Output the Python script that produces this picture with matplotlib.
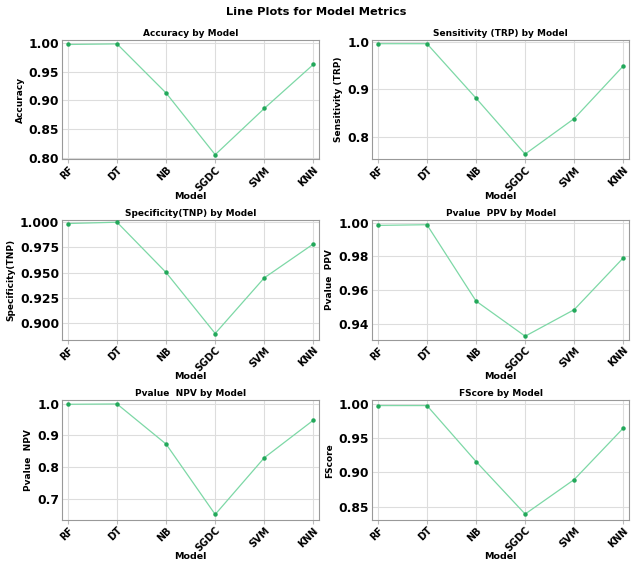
import numpy as np
import matplotlib
matplotlib.use('Agg')
import matplotlib.pyplot as plt

# model names on the x axis
models = ['RF', 'DT', 'NB', 'SGDC', 'SVM', 'KNN']

# metric values
accuracy = [0.998, 0.999, 0.913, 0.805, 0.886, 0.963]
sensitivity = [0.996, 0.996, 0.881, 0.763, 0.838, 0.949]
specificity = [0.9987, 1.000, 0.9503, 0.890, 0.945, 0.9785]
ppv = [0.9984, 0.9988, 0.9534, 0.9325, 0.9483, 0.9791]
npv = [0.998, 0.999, 0.873, 0.652, 0.830, 0.948]
fscore = [0.998, 0.998, 0.916, 0.839, 0.8896, 0.965]

metric_names = ['Accuracy', 'Sensitivity (TRP)', 'Specificity(TNP)',
                'Pvalue  PPV', 'Pvalue  NPV', 'FScore']
metric_values = [accuracy, sensitivity, specificity, ppv, npv, fscore]

fig, axes = plt.subplots(3, 2, figsize=(6.33, 5.62), dpi=100)
fig.subplots_adjust(left=0.098, right=0.994, top=0.929, bottom=0.075,
                    wspace=0.205, hspace=0.51)
fig.suptitle('Line Plots for Model Metrics', fontsize=8.2, fontweight='bold', y=0.988)

x = np.arange(len(models))
for ax, name, vals in zip(axes.flat, metric_names, metric_values):
    ax.plot(x, vals, color='#7dd8a6', lw=0.9, zorder=2)
    ax.plot(x, vals, 'o', color='#22a85a', ms=2.2, zorder=3)
    ax.set_title(name + ' by Model', fontsize=6.5, fontweight='bold', pad=3)
    ax.set_ylabel(name, fontsize=6.5, fontweight='bold', labelpad=3)
    ax.set_xlabel('Model', fontsize=6.8, fontweight='bold', labelpad=-1)
    ax.set_xticks(x)
    ax.set_xticklabels(models, rotation=45, ha='right', rotation_mode='anchor',
                       fontsize=6.9, fontweight='bold')
    for lab in ax.get_yticklabels():
        lab.set_fontweight('bold')
    ax.tick_params(axis='y', labelsize=8.8, length=0, pad=2)
    ax.tick_params(axis='x', length=3, color='#bbbbbb', pad=1)
    ax.set_xlim(-0.12, 5.12)
    ax.grid(True, color='#dddddd', lw=0.8)
    ax.set_axisbelow(True)
    for sp in ax.spines.values():
        sp.set_color('#999999')
        sp.set_linewidth(0.8)

# y ranges and ticks to follow the original panels
axes[0, 0].set_ylim(0.797, 1.006)
axes[0, 0].set_yticks([0.80, 0.85, 0.90, 0.95, 1.00])
axes[0, 1].set_ylim(0.752, 1.004)
axes[0, 1].set_yticks([0.8, 0.9, 1.0])
axes[1, 0].set_ylim(0.884, 1.002)
axes[1, 0].set_yticks([0.900, 0.925, 0.950, 0.975, 1.000])
axes[1, 1].set_ylim(0.9305, 1.0015)
axes[1, 1].set_yticks([0.94, 0.96, 0.98, 1.00])
axes[2, 0].set_ylim(0.635, 1.010)
axes[2, 0].set_yticks([0.7, 0.8, 0.9, 1.0])
axes[2, 1].set_ylim(0.8305, 1.0055)
axes[2, 1].set_yticks([0.85, 0.90, 0.95, 1.00])

for ax, fmt in zip(axes.flat, ['%.2f', '%.1f', '%.3f', '%.2f', '%.1f', '%.2f']):
    ax.yaxis.set_major_formatter(matplotlib.ticker.FormatStrFormatter(fmt))

fig.savefig('out.png', dpi=100)
